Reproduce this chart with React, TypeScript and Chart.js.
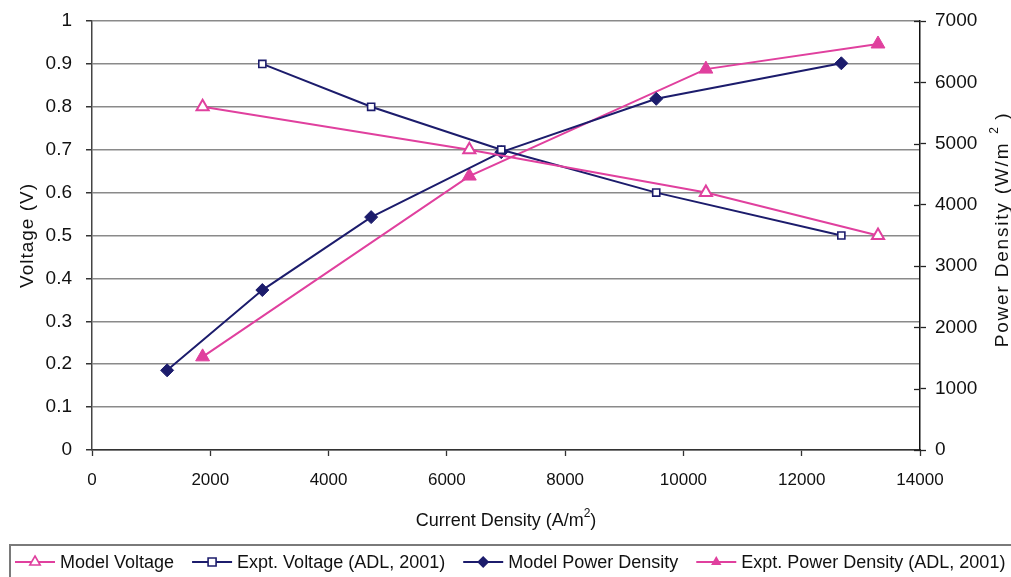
import React, { useEffect, useRef } from 'react';
import { Chart, registerables } from 'chart.js';

Chart.register(...registerables);

const PINK = '#e0409e';
const NAVY = '#1c1c6c';
const FONT = '"Liberation Sans", Arial, sans-serif';

// ---- data ----
const modelVoltageX = [1870, 6380, 10380, 13290];
const modelVoltageY = [0.8, 0.7, 0.6, 0.5];
const exptVoltageX = [2880, 4720, 6920, 9540, 12670];
const exptVoltageY = [0.9, 0.8, 0.7, 0.6, 0.5];
const modelPowerX = [1270, 2880, 4720, 6920, 9540, 12670];
const modelPowerY = [1300, 2610, 3800, 4860, 5730, 6310];
const exptPowerX = [1870, 6380, 10380, 13290];
const exptPowerY = [1520, 4470, 6215, 6625];

const xTicks = [0, 2000, 4000, 6000, 8000, 10000, 12000, 14000];
const voltageTicks = [0, 0.1, 0.2, 0.3, 0.4, 0.5, 0.6, 0.7, 0.8, 0.9, 1];
const powerTicks = [0, 1000, 2000, 3000, 4000, 5000, 6000, 7000];

const seriesNames = [
  'Model Voltage',
  'Expt. Voltage (ADL, 2001)',
  'Model Power Density',
  'Expt. Power Density (ADL, 2001)',
];

const xTitle = 'Current Density (A/m';
const leftTitle = 'Voltage (V)';
const rightTitle = 'Power Density (W/m';

const zip = (xs: number[], ys: number[]) => xs.map((x, i) => ({ x, y: ys[i] }));

type MarkerKind = 'openTriangle' | 'openSquare' | 'diamond' | 'filledTriangle';

function drawMarker(ctx: CanvasRenderingContext2D, kind: MarkerKind, x: number, y: number, r: number, color: string) {
  ctx.save();
  ctx.beginPath();
  if (kind === 'openTriangle' || kind === 'filledTriangle') {
    for (let i = 0; i < 3; i++) {
      const a = (i * 2 * Math.PI) / 3;
      const px = x + Math.sin(a) * r;
      const py = y - Math.cos(a) * r;
      if (i === 0) ctx.moveTo(px, py); else ctx.lineTo(px, py);
    }
    ctx.closePath();
  } else if (kind === 'openSquare') {
    ctx.rect(x - r, y - r, 2 * r, 2 * r);
  } else {
    ctx.moveTo(x, y - r);
    ctx.lineTo(x + r, y);
    ctx.lineTo(x, y + r);
    ctx.lineTo(x - r, y);
    ctx.closePath();
  }
  if (kind === 'openTriangle' || kind === 'openSquare') {
    ctx.fillStyle = '#fff';
    ctx.fill();
    ctx.lineWidth = 1.6;
    ctx.strokeStyle = color;
    ctx.stroke();
  } else {
    ctx.fillStyle = color;
    ctx.fill();
  }
  ctx.restore();
}

const legendKinds: MarkerKind[] = ['openTriangle', 'openSquare', 'diamond', 'filledTriangle'];
const legendColors = [PINK, NAVY, NAVY, PINK];

const decorPlugin = {
  id: 'decor',
  afterDraw(chart: any) {
    const ctx: CanvasRenderingContext2D = chart.ctx;
    const area = chart.chartArea;
    const y1 = chart.scales.y1;

    // inner tick marks of the right axis (crossing ticks)
    ctx.save();
    ctx.strokeStyle = '#222';
    ctx.lineWidth = 1.3;
    powerTicks.forEach((v) => {
      const py = Math.round(y1.getPixelForValue(v)) + 0.5;
      ctx.beginPath();
      ctx.moveTo(area.right - 6, py);
      ctx.lineTo(area.right, py);
      ctx.stroke();
    });
    ctx.restore();

    // axis titles
    ctx.save();
    ctx.fillStyle = '#111';
    ctx.textBaseline = 'middle';
    // x title
    ctx.font = `18px ${FONT}`;
    const w1 = ctx.measureText(xTitle).width;
    ctx.font = `12px ${FONT}`;
    const w2 = ctx.measureText('2').width;
    ctx.font = `18px ${FONT}`;
    const w3 = ctx.measureText(')').width;
    const total = w1 + w2 + w3;
    const cx = (area.left + area.right) / 2;
    const sx = cx - total / 2;
    const ty = 521;
    ctx.textAlign = 'left';
    ctx.fillText(xTitle, sx, ty);
    ctx.font = `12px ${FONT}`;
    ctx.fillText('2', sx + w1, ty - 7);
    ctx.font = `18px ${FONT}`;
    ctx.fillText(')', sx + w1 + w2, ty);

    // left title
    ctx.save();
    ctx.translate(28, (area.top + area.bottom) / 2);
    ctx.rotate(-Math.PI / 2);
    ctx.font = `19px ${FONT}`;
    (ctx as any).letterSpacing = '1px';
    ctx.textAlign = 'center';
    ctx.fillText(leftTitle, 0, 0);
    ctx.restore();

    // right title
    ctx.save();
    ctx.translate(1003, 230);
    ctx.rotate(-Math.PI / 2);
    ctx.font = `19px ${FONT}`;
    (ctx as any).letterSpacing = '1.8px';
    const r1 = ctx.measureText(rightTitle).width;
    const rtotal = r1 + 8 + 8 + 6 + 7;
    let rx = -rtotal / 2;
    ctx.textAlign = 'left';
    ctx.fillText(rightTitle, rx, 0);
    rx += r1 + 8;
    ctx.font = `12px ${FONT}`;
    ctx.fillText('2', rx, -8);
    rx += 8 + 6;
    ctx.font = `19px ${FONT}`;
    ctx.fillText(')', rx, 0);
    ctx.restore();
    ctx.restore();

    // legend box
    ctx.save();
    ctx.strokeStyle = '#7a7a7a';
    ctx.lineWidth = 2;
    ctx.strokeRect(10, 545, 1020, 50);
    ctx.font = `18px ${FONT}`;
    ctx.textBaseline = 'middle';
    ctx.textAlign = 'left';
    const ly = 562;
    let lx = 15;
    seriesNames.forEach((name, i) => {
      const color = legendColors[i];
      ctx.strokeStyle = color;
      ctx.lineWidth = 2;
      ctx.beginPath();
      ctx.moveTo(lx, ly);
      ctx.lineTo(lx + 40, ly);
      ctx.stroke();
      const kind = legendKinds[i];
      const r = kind === 'openSquare' ? 4 : 6;
      drawMarker(ctx, kind, lx + 20, ly, r, color);
      ctx.fillStyle = '#111';
      ctx.fillText(name, lx + 45, ly + 1);
      lx += 45 + ctx.measureText(name).width + 18;
    });
    ctx.restore();
  },
};

export default function App() {
  const ref = useRef<HTMLCanvasElement | null>(null);

  useEffect(() => {
    if (!ref.current) return;
    const tickFont = { family: FONT, size: 19 };
    const chart = new Chart(ref.current, {
      type: 'line',
      data: {
        datasets: [
          {
            label: seriesNames[0],
            data: zip(modelVoltageX, modelVoltageY),
            yAxisID: 'y',
            borderColor: PINK,
            backgroundColor: '#fff',
            borderWidth: 2,
            pointStyle: 'triangle',
            pointRadius: 7,
            pointBorderWidth: 2,
            pointBorderColor: PINK,
            pointBackgroundColor: '#fff',
          },
          {
            label: seriesNames[1],
            data: zip(exptVoltageX, exptVoltageY),
            yAxisID: 'y',
            borderColor: NAVY,
            backgroundColor: '#fff',
            borderWidth: 2,
            pointStyle: 'rect',
            pointRadius: 5,
            pointBorderWidth: 1.6,
            pointBorderColor: NAVY,
            pointBackgroundColor: '#fff',
          },
          {
            label: seriesNames[2],
            data: zip(modelPowerX, modelPowerY),
            yAxisID: 'y1',
            borderColor: NAVY,
            backgroundColor: NAVY,
            borderWidth: 2,
            pointStyle: 'rectRot',
            pointRadius: 6.5,
            pointBorderWidth: 1,
            pointBorderColor: NAVY,
            pointBackgroundColor: NAVY,
          },
          {
            label: seriesNames[3],
            data: zip(exptPowerX, exptPowerY),
            yAxisID: 'y1',
            borderColor: PINK,
            backgroundColor: PINK,
            borderWidth: 2,
            pointStyle: 'triangle',
            pointRadius: 8,
            pointBorderWidth: 1,
            pointBorderColor: PINK,
            pointBackgroundColor: PINK,
          },
        ],
      },
      options: {
        responsive: false,
        animation: false,
        layout: { padding: { top: 21, left: 0, right: 0, bottom: 0 } },
        plugins: {
          legend: { display: false },
          tooltip: { enabled: false },
          title: { display: false },
        },
        scales: {
          x: {
            type: 'linear',
            min: 0,
            max: 14000,
            afterBuildTicks: (s: any) => { s.ticks = xTicks.map((v) => ({ value: v })); },
            afterFit: (s: any) => { s.height = 127; s.paddingLeft = 0; s.paddingRight = 0; },
            grid: { drawOnChartArea: false, drawTicks: true, tickLength: 6, tickColor: '#333', tickWidth: 1.3 },
            border: { color: '#333', width: 1.5 },
            ticks: {
              font: { family: FONT, size: 17 },
              color: '#111',
              padding: 14,
              maxRotation: 0,
              callback: (v: any) => String(v),
            },
          },
          y: {
            type: 'linear',
            position: 'left',
            min: 0,
            max: 1,
            afterBuildTicks: (s: any) => { s.ticks = voltageTicks.map((v) => ({ value: v })); },
            afterFit: (s: any) => { s.width = 92; s.paddingTop = 0; s.paddingBottom = 0; },
            grid: { color: '#8a8a8a', lineWidth: 1.5, drawTicks: true, tickLength: 6, tickColor: '#333' },
            border: { color: '#444', width: 1.5 },
            ticks: {
              font: tickFont,
              color: '#111',
              padding: 14,
              callback: (v: any) => String(Math.round(v * 10) / 10),
            },
          },
          y1: {
            type: 'linear',
            position: 'right',
            min: 0,
            max: 7000,
            afterBuildTicks: (s: any) => { s.ticks = powerTicks.map((v) => ({ value: v })); },
            afterFit: (s: any) => { s.width = 91; s.paddingTop = 0; s.paddingBottom = 0; },
            grid: { drawOnChartArea: false, drawTicks: true, tickLength: 6, tickColor: '#222', tickWidth: 1.3 },
            border: { color: '#111', width: 1.5 },
            ticks: {
              font: tickFont,
              color: '#111',
              padding: 9,
              callback: (v: any) => String(v),
            },
          },
        },
      },
      plugins: [decorPlugin],
    } as any);
    return () => chart.destroy();
  }, []);

  return (
    <div style={{ position: 'absolute', left: 0, top: 0, width: 1011, height: 577, background: '#fff' }}>
      <canvas ref={ref} width={1011} height={577} style={{ display: 'block' }} />
    </div>
  );
}
